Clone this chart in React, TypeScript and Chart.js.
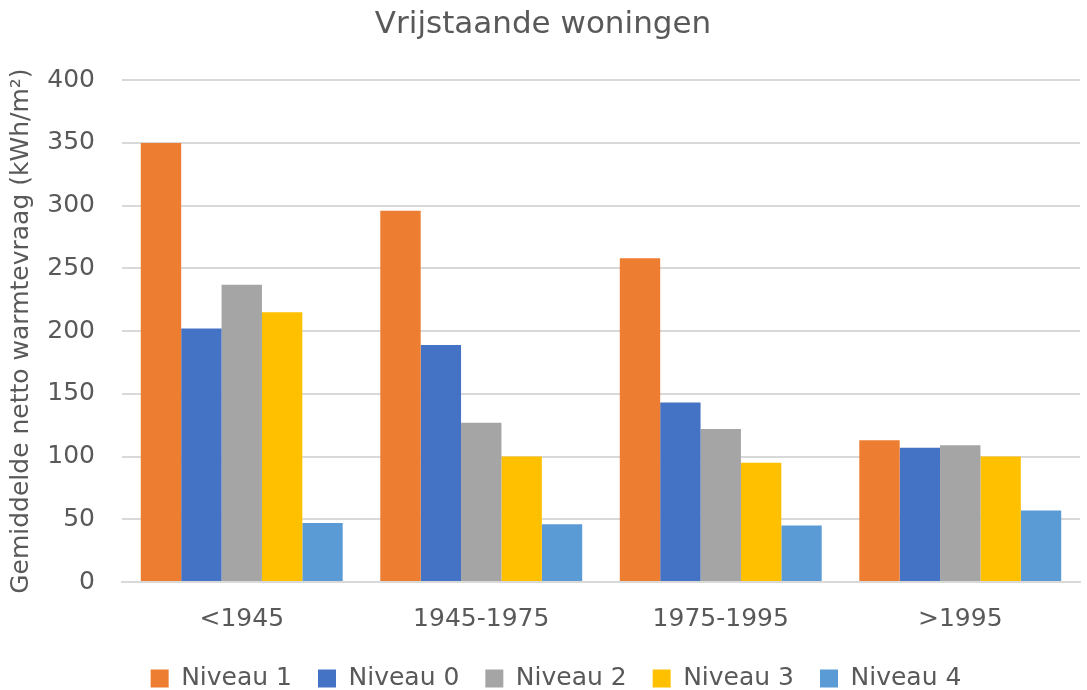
import React, { useEffect, useRef } from "react";
import { Chart, registerables } from "chart.js";

Chart.register(...registerables);

const categories = ["<1945", "1945-1975", "1975-1995", ">1995"];
const seriesNames = ["Niveau 1", "Niveau 0", "Niveau 2", "Niveau 3", "Niveau 4"];
const niveau1 = [350, 296, 258, 113];
const niveau0 = [202, 189, 143, 107];
const niveau2 = [237, 127, 122, 109];
const niveau3 = [215, 100, 95, 100];
const niveau4 = [47, 46, 45, 57];
const colors = ["#ED7D31", "#4472C4", "#A5A5A5", "#FFC000", "#5B9BD5"];
const yTicks = [0, 50, 100, 150, 200, 250, 300, 350, 400];

const FONT = "'DejaVu Sans', Verdana, sans-serif";
const TEXT = "#595959";

const legendShift = {
  id: "legendShift",
  afterLayout(chart: any) {
    if (chart.legend) {
      chart.legend.left += 13;
      chart.legend.right += 13;
    }
  },
};

export default function App() {
  const ref = useRef<HTMLCanvasElement | null>(null);
  useEffect(() => {
    document.body.style.margin = "0";
    const values = [niveau1, niveau0, niveau2, niveau3, niveau4];
    const chart = new Chart(ref.current!, {
      type: "bar",
      data: {
        labels: categories,
        datasets: seriesNames.map((n, i) => ({
          label: n,
          data: values[i],
          backgroundColor: colors[i],
          borderWidth: 0,
          categoryPercentage: 0.843,
          barPercentage: 1.0,
        })),
      },
      plugins: [legendShift],
      options: {
        animation: false,
        responsive: false,
        maintainAspectRatio: false,
        layout: { padding: { left: 6, right: 7, top: 4, bottom: -11 } },
        plugins: {
          title: {
            display: true,
            text: "Vrijstaande woningen",
            color: TEXT,
            font: { family: FONT, size: 31, weight: "normal" },
            padding: { top: 2, bottom: 37 },
          },
          legend: {
            position: "bottom",
            labels: {
              color: TEXT,
              font: { family: FONT, size: 25 },
              boxWidth: 18,
              boxHeight: 18,
              padding: 26,
            },
          },
          tooltip: { enabled: false },
        },
        scales: {
          x: {
            grid: { display: false },
            border: { color: "#D9D9D9", width: 2 },
            ticks: { color: TEXT, font: { family: FONT, size: 25 }, padding: 14 },
            afterFit: (axis: any) => {
              axis.height = 58;
            },
          },
          y: {
            min: 0,
            max: 400,
            afterBuildTicks: (axis: any) => {
              axis.ticks = yTicks.map((v) => ({ value: v }));
            },
            afterFit: (axis: any) => {
              axis.width = 116;
            },
            grid: { color: "#D9D9D9", lineWidth: 2, drawTicks: false },
            border: { display: false },
            ticks: { color: TEXT, font: { family: FONT, size: 25 }, padding: 27 },
            title: {
              display: true,
              text: "Gemiddelde netto warmtevraag (kWh/m²)",
              color: TEXT,
              font: { family: FONT, size: 25 },
              padding: { top: 0, bottom: 2 },
            },
          },
        },
      },
    });
    return () => chart.destroy();
  }, []);
  return (
    <div style={{ position: "fixed", left: 0, top: 0, width: 1087, height: 690, background: "#fff" }}>
      <canvas ref={ref} width={1087} height={690} />
    </div>
  );
}
